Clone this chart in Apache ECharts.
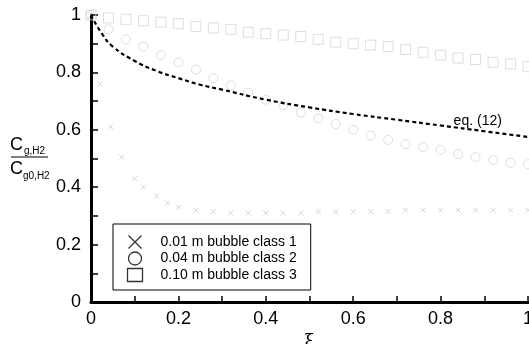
<!DOCTYPE html>
<html>
<head>
<meta charset="utf-8">
<script src="https://cdn.jsdelivr.net/npm/echarts@6/dist/echarts.min.js"></script>
<style>
  html, body { margin: 0; padding: 0; background: #fff; }
  #chart { width: 529px; height: 344px; }
</style>
</head>
<body>
<div id="chart"></div>
<script>
// 数据
var xiTicks = [0, 0.2, 0.4, 0.6, 0.8, 1];
var yTicks = [0, 0.2, 0.4, 0.6, 0.8, 1];

// bubble class 1 (0.01 m)
var xi1 = [0, 0.02, 0.045, 0.07, 0.1, 0.12, 0.15, 0.175, 0.2, 0.24, 0.28, 0.32, 0.36, 0.4, 0.44, 0.48, 0.52, 0.56, 0.6, 0.64, 0.68, 0.72, 0.76, 0.8, 0.84, 0.88, 0.92, 0.96, 1];
var class1 = [1, 0.76, 0.61, 0.505, 0.43, 0.4, 0.37, 0.345, 0.33, 0.32, 0.315, 0.31, 0.31, 0.31, 0.31, 0.31, 0.315, 0.315, 0.315, 0.315, 0.315, 0.32, 0.32, 0.32, 0.32, 0.32, 0.32, 0.32, 0.32];

// bubble class 2 (0.04 m) and class 3 (0.10 m)
var xi = [0, 0.04, 0.08, 0.12, 0.16, 0.2, 0.24, 0.28, 0.32, 0.36, 0.4, 0.44, 0.48, 0.52, 0.56, 0.6, 0.64, 0.68, 0.72, 0.76, 0.8, 0.84, 0.88, 0.92, 0.96, 1];
var class2 = [1, 0.95, 0.915, 0.89, 0.86, 0.835, 0.81, 0.78, 0.755, 0.73, 0.705, 0.685, 0.66, 0.64, 0.62, 0.6, 0.58, 0.565, 0.55, 0.54, 0.53, 0.515, 0.505, 0.495, 0.485, 0.48];
var class3 = [1, 0.99, 0.985, 0.98, 0.975, 0.97, 0.96, 0.955, 0.95, 0.94, 0.935, 0.93, 0.925, 0.915, 0.905, 0.9, 0.895, 0.89, 0.88, 0.87, 0.86, 0.85, 0.845, 0.835, 0.83, 0.82];

// eq. (12)
var xiEq = [0, 0.025, 0.05, 0.1, 0.15, 0.2, 0.25, 0.3, 0.4, 0.5, 0.6, 0.7, 0.8, 0.9, 1];
var eq12 = [1, 0.935, 0.89, 0.84, 0.805, 0.78, 0.757, 0.74, 0.705, 0.678, 0.655, 0.635, 0.615, 0.595, 0.575];

var legendNames = ['0.01 m bubble class 1', '0.04 m bubble class 2', '0.10 m bubble class 3'];

var crossPath = 'path://M0,0L10,10M10,0L0,10';

function pairs(xs, ys) {
  return xs.map(function (x, i) { return [x, ys[i]]; });
}

var chart = echarts.init(document.getElementById('chart'));
var font = '"Liberation Sans", Arial, Helvetica, sans-serif';

var option = {
  backgroundColor: '#fff',
  animation: false,
  grid: { left: 91, right: 1, top: 15, bottom: 42, outerBoundsMode: 'none', containLabel: false },
  xAxis: {
    type: 'value', min: 0, max: 1, interval: 0.2,
    name: 'ξ', nameLocation: 'middle', nameGap: 25,
    nameTextStyle: { fontFamily: '"DejaVu Serif", serif', fontSize: 17, color: '#000' },
    axisLine: { lineStyle: { color: '#000', width: 3 } },
    axisTick: { inside: true, length: 6, lineStyle: { color: '#000', width: 1.5 } },
    minorTick: { show: true, splitNumber: 2, length: 6, lineStyle: { color: '#000', width: 1.5 } },
    splitLine: { show: false },
    axisLabel: {
      margin: 8, fontSize: 18, color: '#000', fontFamily: font,
      formatter: function (v) { return xiTicks.indexOf(v) >= 0 ? String(v) : ''; }
    }
  },
  yAxis: {
    type: 'value', min: 0, max: 1, interval: 0.2,
    axisLine: { show: true, lineStyle: { color: '#000', width: 3 } },
    axisTick: { show: true, inside: true, length: 7, lineStyle: { color: '#000', width: 1.5 } },
    minorTick: { show: true, splitNumber: 2, length: 7, lineStyle: { color: '#000', width: 1.5 } },
    splitLine: { show: false },
    axisLabel: {
      margin: 10, fontSize: 18, color: '#000', fontFamily: font,
      formatter: function (v) { return yTicks.indexOf(v) >= 0 ? String(v) : ''; }
    }
  },
  legend: {
    orient: 'vertical', left: 113, top: 224,
    padding: [9, 14, 6, 12], itemGap: -1.5,
    itemWidth: 15, itemHeight: 13,
    backgroundColor: '#fff', borderColor: '#000', borderWidth: 1,
    textStyle: { fontSize: 14, color: '#000', fontFamily: font, padding: [0, 0, 0, 13] },
    data: [
      { name: legendNames[0], icon: crossPath, itemStyle: { color: 'none', borderColor: '#000', borderWidth: 1.3 } },
      { name: legendNames[1], icon: 'circle', itemStyle: { color: 'none', borderColor: '#000', borderWidth: 1.3 } },
      { name: legendNames[2], icon: 'rect', itemStyle: { color: 'none', borderColor: '#000', borderWidth: 1.3 } }
    ]
  },
  series: [
    {
      name: legendNames[0], type: 'scatter', symbol: crossPath, symbolSize: 5,
      itemStyle: { color: 'none', borderColor: '#b5b5b5', borderWidth: 0.7 },
      data: pairs(xi1, class1)
    },
    {
      name: legendNames[1], type: 'scatter', symbol: 'circle', symbolSize: 9,
      itemStyle: { color: 'none', borderColor: '#c4c4c4', borderWidth: 0.7 },
      data: pairs(xi, class2)
    },
    {
      name: legendNames[2], type: 'scatter', symbol: 'rect', symbolSize: 10,
      itemStyle: { color: 'none', borderColor: '#c4c4c4', borderWidth: 0.7 },
      data: pairs(xi, class3)
    },
    {
      name: 'eq. (12)', type: 'line', smooth: true, showSymbol: false,
      lineStyle: { color: '#000', width: 2.2, type: [4, 3] },
      data: pairs(xiEq, eq12),
      markPoint: {
        symbol: 'circle', symbolSize: 0,
        label: { show: true, formatter: 'eq. (12)', color: '#000', fontSize: 14, fontFamily: font },
        data: [{ coord: [0.885, 0.63] }]
      }
    }
  ],
  graphic: [
    { type: 'text', left: 10, top: 136, style: { text: 'C', font: '18px ' + font, fill: '#000' } },
    { type: 'text', left: 24, top: 146, style: { text: 'g,H2', font: '10px ' + font, fill: '#000' } },
    { type: 'line', shape: { x1: 11, y1: 157, x2: 48, y2: 157 }, style: { stroke: '#000', lineWidth: 1 } },
    { type: 'text', left: 10, top: 160, style: { text: 'C', font: '18px ' + font, fill: '#000' } },
    { type: 'text', left: 23, top: 171, style: { text: 'g0,H2', font: '10px ' + font, fill: '#000' } }
  ]
};

chart.setOption(option);
</script>
</body>
</html>
